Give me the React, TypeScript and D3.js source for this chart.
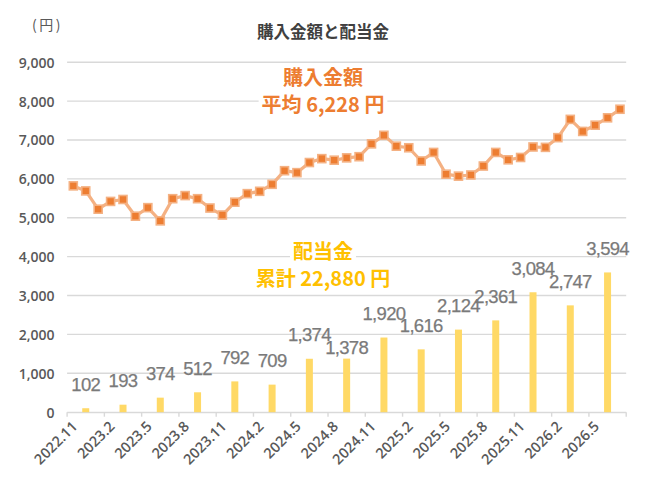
import React, { useEffect, useRef } from "react";
import * as d3 from "d3";

// ---- data ----
const quarterLabels = [
  "2022.11", "2023.2", "2023.5", "2023.8", "2023.11", "2024.2", "2024.5", "2024.8",
  "2024.11", "2025.2", "2025.5", "2025.8", "2025.11", "2026.2", "2026.5",
];
const dividends = [102, 193, 374, 512, 792, 709, 1374, 1378, 1920, 1616, 2124, 2361, 3084, 2747, 3594];
const purchases = [
  5820, 5690, 5220, 5420, 5470, 5040, 5260, 4920, 5490, 5570,
  5490, 5250, 5070, 5400, 5620, 5680, 5860, 6210, 6160, 6420,
  6520, 6480, 6540, 6570, 6900, 7120, 6840, 6800, 6460, 6680,
  6120, 6070, 6100, 6330, 6680, 6490, 6550, 6820, 6810, 7060,
  7530, 7220, 7380, 7570, 7790,
];
const yTicks = [0, 1000, 2000, 3000, 4000, 5000, 6000, 7000, 8000, 9000];
const chartTitle = "購入金額と配当金";
const unitLabel = "(円)";
const purchaseNote = ["購入金額", "平均 6,228 円"];
const dividendNote = ["配当金", "累計 22,880 円"];

// months inside each quarter (3 per quarter)
const monthKeys: string[] = [];
quarterLabels.forEach((q) => {
  const [yy, mm] = q.split(".").map(Number);
  for (let k = 0; k < 3; k++) {
    let m = mm + k;
    let yv = yy;
    if (m > 12) { m -= 12; yv += 1; }
    monthKeys.push(`${yv}.${m}`);
  }
});

const W = 646;
const H = 497;
const CJK = "'Noto Sans CJK JP', 'Noto Sans', sans-serif";
const NUM = "'Open Sans', Roboto, sans-serif";
const LBL = "'Liberation Sans', Arial, sans-serif";

export default function App() {
  const ref = useRef<SVGSVGElement | null>(null);

  useEffect(() => {
    document.body.style.margin = "0";
    const svg = d3.select(ref.current!);
    svg.selectAll("*").remove();

    const x0 = 67.1, x1 = 626.2;
    const x = d3.scaleBand<string>().domain(quarterLabels).range([x0, x1]);
    const xm = d3.scaleBand<string>().domain(monthKeys).range([x0, x1]);
    const y = d3.scaleLinear().domain([0, 9000]).range([412.2, 62.2]);
    const bw = x.bandwidth();
    const mw = xm.bandwidth();
    const yBase = y(0);

    svg.append("rect").attr("width", W).attr("height", H).attr("fill", "#fff");

    // title
    svg.append("text")
      .attr("x", 323).attr("y", 31)
      .attr("text-anchor", "middle").attr("dominant-baseline", "central")
      .attr("font-family", CJK).attr("font-size", 16.5).attr("font-weight", 700)
      .attr("fill", "#404040").text(chartTitle);

    svg.append("text")
      .attr("x", 47.5).attr("y", 24)
      .attr("text-anchor", "middle").attr("dominant-baseline", "central")
      .attr("font-family", CJK).attr("font-size", 14)
      .attr("letter-spacing", 2.5)
      .attr("fill", "#595959").text(unitLabel);

    // gridlines
    svg.append("g").selectAll("line")
      .data(yTicks.filter((t) => t > 0))
      .join("line")
      .attr("x1", x0).attr("x2", x1)
      .attr("y1", (d) => y(d)).attr("y2", (d) => y(d))
      .attr("stroke", "#d9d9d9").attr("stroke-width", 1.4);

    // y labels
    svg.append("g").selectAll("text")
      .data(yTicks)
      .join("text")
      .attr("x", 54.5).attr("y", (d) => y(d))
      .attr("text-anchor", "end").attr("dominant-baseline", "central")
      .attr("font-family", NUM).attr("font-size", 14).attr("font-weight", 600)
      .attr("fill", "#595959")
      .text((d) => d3.format(",")(d));

    // x axis
    svg.append("line")
      .attr("x1", x0).attr("x2", x1).attr("y1", yBase + 0.3).attr("y2", yBase + 0.3)
      .attr("stroke", "#d9d9d9").attr("stroke-width", 1.4);
    const tickXs = quarterLabels.map((q) => x(q)!).concat([x1]);
    svg.append("g").selectAll("line")
      .data(tickXs)
      .join("line")
      .attr("x1", (d) => d).attr("x2", (d) => d)
      .attr("y1", yBase).attr("y2", yBase + 4.5)
      .attr("stroke", "#d9d9d9").attr("stroke-width", 1.4);

    svg.append("g").selectAll("text")
      .data(quarterLabels)
      .join("text")
      .attr("transform", (d) => `translate(${x(d)! + bw / 2},${yBase}) rotate(-45)`)
      .attr("x", -16).attr("y", 0)
      .attr("text-anchor", "end").attr("dominant-baseline", "central")
      .attr("font-family", NUM).attr("font-size", 14.5).attr("font-weight", 600)
      .attr("fill", "#595959")
      .text((d) => d);

    // bars
    const barW = 7;
    svg.append("g").selectAll("rect")
      .data(quarterLabels)
      .join("rect")
      .attr("x", (d) => x(d)! + bw / 2 - barW / 2)
      .attr("width", barW)
      .attr("y", (_, i) => y(dividends[i]))
      .attr("height", (_, i) => yBase - y(dividends[i]))
      .attr("fill", "#FFD966");

    // bar value labels
    const nudged: Record<number, number> = { 7: 12.5 };
    svg.append("g").selectAll("text")
      .data(quarterLabels)
      .join("text")
      .attr("x", (d) => x(d)! + bw / 2)
      .attr("y", (_, i) => y(dividends[i]) - 17.5 + (nudged[i] || 0))
      .attr("text-anchor", "middle")
      .attr("font-family", LBL).attr("font-size", 18.5)
      .attr("letter-spacing", -0.7)
      .attr("fill", "#7a7a7a")
      .attr("stroke", "#7a7a7a").attr("stroke-width", 0.25)
      .text((_, i) => d3.format(",")(dividends[i]));

    // line
    const pts: [number, number][] = monthKeys.map((m, i) => [xm(m)! + mw / 2, y(purchases[i])]);
    svg.append("path")
      .attr("d", d3.line()(pts)!)
      .attr("fill", "none").attr("stroke", "#F4B183").attr("stroke-width", 3.2)
      .attr("stroke-linejoin", "round");
    const ms = 8;
    svg.append("g").selectAll("rect")
      .data(pts)
      .join("rect")
      .attr("x", (d) => d[0] - ms / 2).attr("y", (d) => d[1] - ms / 2)
      .attr("width", ms).attr("height", ms)
      .attr("fill", "#ED7D31").attr("stroke", "#F4B183").attr("stroke-width", 1.6);

    // annotations: white per-line backgrounds behind each line
    const fs = 20;
    const addNote = (lines: string[], ys: number[], color: string) => {
      const g = svg.append("g");
      const bgs = g.append("g");
      lines.forEach((line, i) => {
        const t = g.append("text")
          .attr("x", 323).attr("y", ys[i])
          .attr("text-anchor", "middle").attr("dominant-baseline", "central")
          .attr("font-family", CJK).attr("font-size", fs).attr("font-weight", 700)
          .attr("fill", color).text(line);
        const w = (t.node() as SVGTextElement).getComputedTextLength();
        bgs.append("rect")
          .attr("x", 323 - w / 2 - 3).attr("y", ys[i] - fs * 0.6)
          .attr("width", w + 6).attr("height", fs * 1.2)
          .attr("fill", "#fff");
      });
    };
    addNote(purchaseNote, [76.5, 103.3], "#ED7D31");
    addNote(dividendNote, [250.4, 277.2], "#FFC000");
  }, []);

  return <svg ref={ref} width={W} height={H} style={{ display: "block" }} />;
}
